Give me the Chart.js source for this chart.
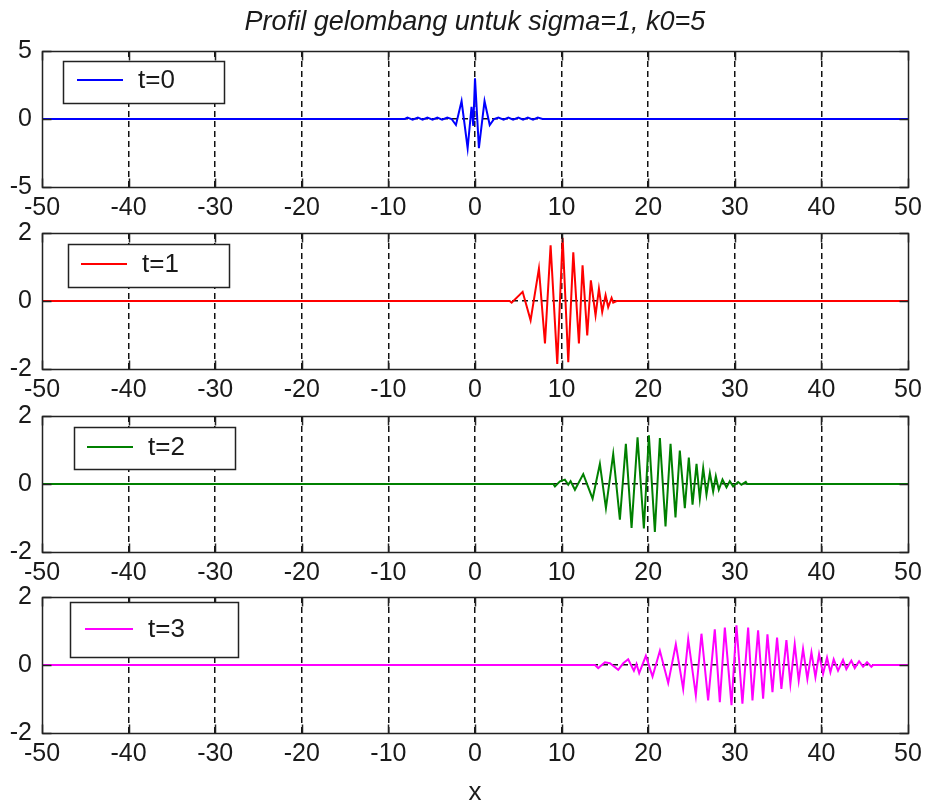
<!DOCTYPE html>
<html>
<head>
<meta charset="utf-8">
<title>Profil gelombang</title>
<script src="https://cdn.jsdelivr.net/npm/chart.js@4.4.1/dist/chart.umd.min.js"></script>
<style>
  html, body { margin: 0; padding: 0; background: #fff; }
  body { position: relative; width: 927px; height: 806px; overflow: hidden; }
  canvas { position: absolute; left: 0; }
</style>
</head>
<body>
<canvas id="wave-t0" width="927" height="227" style="top:0px"></canvas>
<canvas id="wave-t1" width="927" height="191" style="top:218px"></canvas>
<canvas id="wave-t2" width="927" height="191" style="top:401px"></canvas>
<canvas id="wave-t3" width="927" height="224" style="top:582px"></canvas>
<script>
// axis ticks
const xTicks = [-50, -40, -30, -20, -10, 0, 10, 20, 30, 40, 50];
const yTicksWide = [-5, 0, 5];
const yTicksNarrow = [-2, 0, 2];

// packet at t=0
const waveX0 = [-50, -8.1, -7.8, -7.2, -6.6, -6.05, -5.5, -4.9, -4.35, -3.8, -3.2, -2.7, -2.2, -1.55, -0.85, -0.4, -0.2, 0, 0.45, 1.1, 1.7, 2.2, 2.7, 3.3, 3.85, 4.4, 5.0, 5.55, 6.1, 6.7, 7.25, 7.8, 50];
const waveY0 = [0, 0, 0.1, -0.05, 0.1, -0.05, 0.1, -0.05, 0.1, -0.05, 0.1, 0, -0.44, 1.32, -2.15, 0.9, -0.5, 3.0, -2.15, 1.32, -0.44, 0, 0.1, -0.05, 0.1, -0.05, 0.1, -0.05, 0.1, -0.05, 0.1, 0, 0];

// packet at t=1
const waveX1 = [-50, 4.0, 4.23, 5.5, 6.42, 7.38, 8.08, 8.73, 9.5, 10.12, 10.77, 11.35, 12.0, 12.42, 12.96, 13.38, 13.92, 14.31, 14.69, 15.08, 15.38, 15.77, 15.96, 16.35, 50];
const waveY1 = [0, 0, -0.05, 0.27, -0.57, 0.95, -1.25, 1.64, -1.85, 1.86, -1.8, 1.43, -1.25, 1.05, -1.01, 0.61, -0.42, 0.36, -0.32, 0.17, -0.18, 0.09, -0.05, 0, 0];

// packet at t=2
const waveX2 = [-50, 9.04, 9.23, 9.81, 10.38, 10.77, 11.04, 11.54, 12.5, 13.58, 14.42, 15.12, 15.96, 16.73, 17.42, 18.08, 18.77, 19.5, 20.08, 20.77, 21.35, 22.0, 22.58, 23.15, 23.65, 24.23, 24.69, 25.12, 25.58, 25.96, 26.35, 26.73, 27.12, 27.5, 27.81, 28.15, 28.58, 29.04, 29.42, 29.81, 30.38, 30.77, 31.27, 31.42, 50];
const waveY2 = [0, 0, -0.07, 0.08, 0.13, -0.02, 0.08, -0.17, 0.29, -0.43, 0.59, -0.71, 0.88, -1.05, 1.18, -1.29, 1.37, -1.31, 1.43, -1.41, 1.35, -1.25, 1.18, -0.98, 0.98, -0.71, 0.78, -0.61, 0.59, -0.43, 0.47, -0.31, 0.32, -0.22, 0.23, -0.17, 0.13, -0.1, 0.08, -0.07, 0.06, -0.02, 0.06, 0, 0];

// packet at t=3
const waveX3 = [-50, 13.85, 14.23, 15.0, 15.58, 16.54, 17.12, 17.69, 18.35, 18.65, 18.96, 19.73, 20.5, 21.35, 22.31, 23.19, 24.04, 24.62, 25.5, 26.15, 26.92, 27.69, 28.27, 28.85, 29.62, 30.19, 30.88, 31.54, 32.04, 32.69, 33.27, 33.77, 34.35, 34.88, 35.38, 35.96, 36.42, 36.92, 37.38, 37.88, 38.38, 38.85, 39.31, 39.73, 40.19, 40.65, 41.04, 41.42, 41.92, 42.5, 42.88, 43.46, 43.85, 44.35, 44.81, 45.27, 45.77, 45.96, 50];
const waveY3 = [0, 0, -0.09, 0.08, 0.05, -0.14, 0.05, 0.17, -0.17, 0.03, -0.24, 0.27, -0.34, 0.42, -0.53, 0.61, -0.7, 0.76, -0.89, 0.92, -1.04, 1.05, -1.09, 1.1, -1.18, 1.17, -1.14, 1.1, -1.04, 1.02, -0.99, 0.9, -0.8, 0.81, -0.7, 0.73, -0.55, 0.61, -0.46, 0.47, -0.41, 0.37, -0.36, 0.32, -0.26, 0.22, -0.21, 0.17, -0.17, 0.15, -0.12, 0.13, -0.09, 0.11, -0.05, 0.08, -0.05, 0, 0];

const FONT = '"Liberation Sans", Arial, Helvetica, sans-serif';
const TEXT = '#1a1a1a';
const EDGE = '#222';

function toPoints(xs, ys) {
  return xs.map((x, i) => ({ x, y: ys[i] }));
}

// dotted grid only inside the box; the outer lines are covered by the frame
function gridColor(ctx) {
  const scale = ctx.scale;
  if (ctx.tick && (ctx.tick.value === scale.min || ctx.tick.value === scale.max)) {
    return 'rgba(0,0,0,0)';
  }
  return '#111';
}

// axes box with inward tick marks on all four sides
const axesBox = {
  id: 'axesBox',
  afterDatasetsDraw(chart) {
    const { ctx, chartArea: a, scales: { x, y } } = chart;
    const len = 9;
    const left = Math.round(a.left) + 0.5;
    const top = Math.round(a.top) + 0.5;
    const right = Math.round(a.right) + 0.5;
    const bottom = Math.round(a.bottom) + 0.5;
    ctx.save();
    ctx.strokeStyle = EDGE;
    ctx.lineWidth = 1.5;
    ctx.setLineDash([]);
    ctx.beginPath();
    x.ticks.forEach((t) => {
      const px = Math.round(x.getPixelForValue(t.value)) + 0.5;
      ctx.moveTo(px, top);
      ctx.lineTo(px, top + len);
      ctx.moveTo(px, bottom);
      ctx.lineTo(px, bottom - len);
    });
    y.ticks.forEach((t) => {
      const py = Math.round(y.getPixelForValue(t.value)) + 0.5;
      ctx.moveTo(left, py);
      ctx.lineTo(left + len, py);
      ctx.moveTo(right, py);
      ctx.lineTo(right - len, py);
    });
    ctx.stroke();
    ctx.strokeRect(left, top, right - left, bottom - top);
    ctx.restore();
  }
};

// boxed legend placed inside the axes, offsets relative to the plot area
const boxLegend = {
  id: 'boxLegend',
  afterDraw(chart, args, opts) {
    const { ctx, chartArea: a } = chart;
    const ds = chart.data.datasets[0];
    const [bx, by, bw, bh] = opts.box;
    const left = Math.round(a.left + bx) + 0.5;
    const top = Math.round(a.top + by) + 0.5;
    const lineY = a.top + opts.lineY;
    ctx.save();
    ctx.fillStyle = '#fff';
    ctx.fillRect(left, top, bw, bh);
    ctx.strokeStyle = EDGE;
    ctx.lineWidth = 1.5;
    ctx.strokeRect(left, top, bw, bh);
    ctx.strokeStyle = ds.borderColor;
    ctx.lineWidth = 2;
    ctx.beginPath();
    ctx.moveTo(a.left + opts.line[0], lineY);
    ctx.lineTo(a.left + opts.line[1], lineY);
    ctx.stroke();
    ctx.fillStyle = TEXT;
    ctx.font = '26px ' + FONT;
    ctx.textBaseline = 'middle';
    ctx.textAlign = 'left';
    ctx.fillText(ds.label, a.left + opts.textX, lineY + 1);
    ctx.restore();
  }
};

function makeChart(id, cfg) {
  const canvas = document.getElementById(id);
  const yTicks = cfg.yTicks;
  const xScale = {
    type: 'linear',
    min: -50,
    max: 50,
    afterBuildTicks(scale) {
      scale.ticks = xTicks.map((v) => ({ value: v }));
    },
    afterFit(scale) {
      scale.height = cfg.xHeight;
      scale.paddingLeft = 0;
      scale.paddingRight = 0;
    },
    ticks: {
      color: TEXT,
      font: { family: FONT, size: 25 },
      padding: 6,
      maxRotation: 0,
      autoSkip: false
    },
    grid: { color: gridColor, lineWidth: 1.5, drawTicks: false },
    border: { display: false, dash: [6, 4] }
  };
  if (cfg.xTitle) {
    xScale.title = {
      display: true,
      text: cfg.xTitle,
      color: TEXT,
      font: { family: FONT, size: 26, lineHeight: 1 },
      padding: { top: 0, bottom: 0 }
    };
  }

  return new Chart(canvas, {
    type: 'line',
    data: {
      datasets: [{
        label: cfg.label,
        data: toPoints(cfg.xs, cfg.ys),
        borderColor: cfg.color,
        borderWidth: 2,
        pointRadius: 0,
        tension: 0,
        fill: false
      }]
    },
    options: {
      responsive: false,
      animation: false,
      devicePixelRatio: 1,
      layout: { padding: { left: 0, right: 19, top: cfg.padTop, bottom: 0 } },
      scales: {
        x: xScale,
        y: {
          type: 'linear',
          min: yTicks[0],
          max: yTicks[yTicks.length - 1],
          afterBuildTicks(scale) {
            scale.ticks = yTicks.map((v) => ({ value: v }));
          },
          afterFit(scale) {
            scale.width = 42;
            scale.paddingTop = 0;
            scale.paddingBottom = 0;
          },
          ticks: {
            color: TEXT,
            font: { family: FONT, size: 25 },
            padding: 10
          },
          grid: { color: gridColor, lineWidth: 1.5, drawTicks: false },
          border: { display: false, dash: [6, 4] }
        }
      },
      plugins: {
        legend: { display: false },
        tooltip: { enabled: false },
        title: cfg.title ? {
          display: true,
          fullSize: false,
          text: cfg.title,
          color: TEXT,
          font: { family: FONT, size: 27, style: 'italic', weight: 'normal' },
          padding: { top: 6, bottom: 12.6 }
        } : { display: false },
        boxLegend: cfg.legend
      }
    },
    plugins: [axesBox, boxLegend]
  });
}

makeChart('wave-t0', {
  label: 't=0', color: '#0000ff', xs: waveX0, ys: waveY0, yTicks: yTicksWide,
  title: 'Profil gelombang untuk sigma=1, k0=5', padTop: 0, xHeight: 40,
  legend: { box: [21, 10, 161, 42], line: [35, 81], lineY: 29, textX: 96 }
});
makeChart('wave-t1', {
  label: 't=1', color: '#ff0000', xs: waveX1, ys: waveY1, yTicks: yTicksNarrow,
  padTop: 15, xHeight: 40,
  legend: { box: [26, 11, 161, 43], line: [39, 85], lineY: 31, textX: 100 }
});
makeChart('wave-t2', {
  label: 't=2', color: '#008000', xs: waveX2, ys: waveY2, yTicks: yTicksNarrow,
  padTop: 15, xHeight: 40,
  legend: { box: [32, 11, 161, 42], line: [45, 91], lineY: 31, textX: 106 }
});
makeChart('wave-t3', {
  label: 't=3', color: '#ff00ff', xs: waveX3, ys: waveY3, yTicks: yTicksNarrow,
  padTop: 15, xHeight: 73, xTitle: 'x',
  legend: { box: [28, 5, 168, 55], line: [43, 91], lineY: 32, textX: 106 }
});
</script>
</body>
</html>
